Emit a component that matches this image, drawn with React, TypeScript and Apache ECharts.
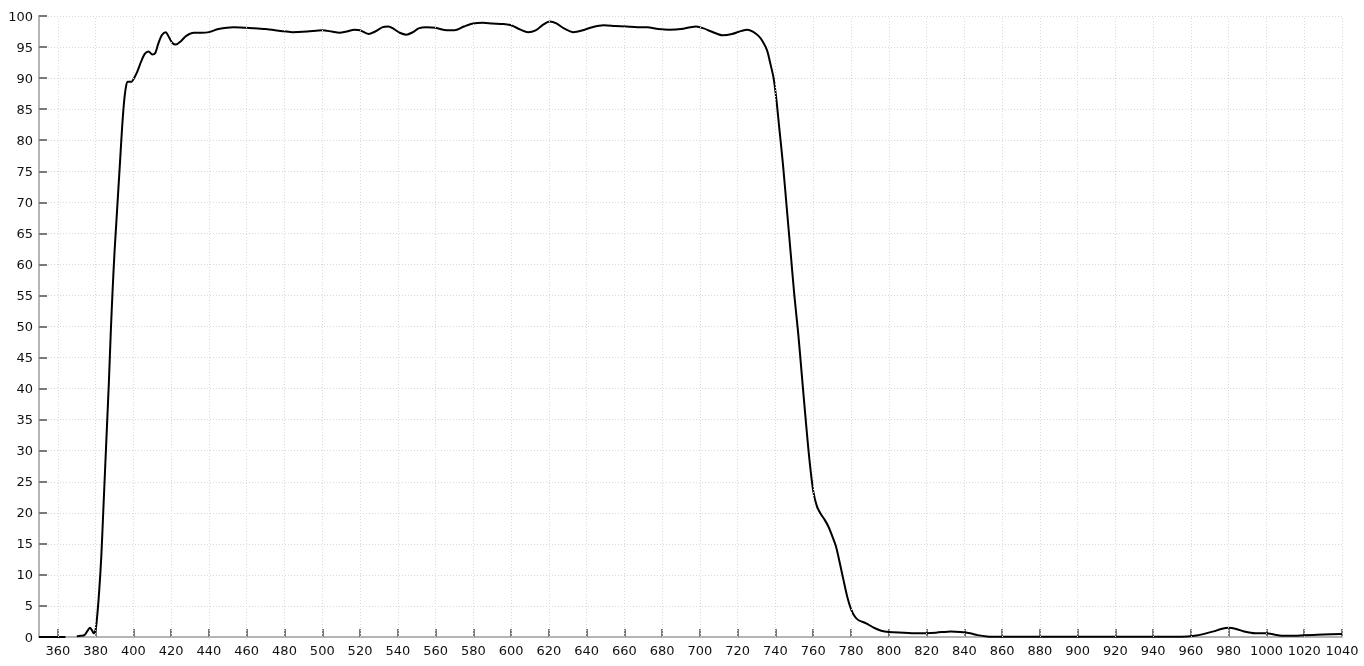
import React, { useEffect, useRef } from "react";
import * as echarts from "echarts";

// wavelength (nm) -> transmission (%)
const lowBand: [number, number | string][] = [
  [350, 0], [355, 0], [360, 0], [364, 0], [367, "-"],
];

const wavelengths: number[] = [
  370, 372, 374, 375.5, 377, 378, 379, 380, 381, 382, 383, 384, 385, 386, 387, 388, 389, 390,
  391, 392, 393, 394, 395, 396, 397, 399, 400, 402, 404, 406, 408, 410, 411.5, 413, 415, 417,
  419, 420.5, 422.5, 425, 428, 432, 436, 440, 445, 453, 460, 470, 478, 484, 492, 500, 505, 509,
  513, 517, 520, 524.5, 528, 532, 535, 538, 541, 544.5, 548, 551, 555, 560, 566, 570, 575, 580,
  585, 590, 596, 600, 605, 609, 613, 617, 620.5, 624, 628, 633, 638, 643, 649, 655, 661, 667,
  672, 678, 684, 690, 695, 698, 702, 706, 712, 717, 722, 725, 728, 731, 733, 735.5, 737, 739,
  740.5, 742, 744, 746, 748, 750, 752, 754, 756, 758, 760, 762, 764, 766, 768, 770, 772, 774,
  776, 778, 780, 782, 784, 788, 792, 796, 800, 808, 816, 825, 833, 838, 843, 847, 852, 860,
  880, 900, 920, 940, 955, 962, 967, 972, 976, 980, 984, 988, 994, 1000, 1004, 1008, 1015,
  1020, 1030, 1040,
];

const transmission: number[] = [
  0.1, 0.2, 0.3, 0.9, 1.5, 1.1, 0.6, 1.2, 4, 8, 13, 20, 27, 34, 41, 49, 56, 62,
  67, 72, 77, 82, 86, 88.5, 89.4, 89.4, 89.8, 91, 92.6, 93.9, 94.3, 93.8, 94.0, 95.4, 96.9, 97.4,
  96.5, 95.7, 95.4, 95.9, 96.8, 97.3, 97.3, 97.4, 97.9, 98.2, 98.1, 97.9, 97.6, 97.4, 97.5, 97.7, 97.5, 97.3,
  97.5, 97.8, 97.7, 97.1, 97.5, 98.2, 98.3, 97.9, 97.3, 97.0, 97.4, 98.0, 98.2, 98.1, 97.7, 97.7, 98.3, 98.8,
  98.9, 98.8, 98.7, 98.5, 97.8, 97.4, 97.7, 98.6, 99.1, 98.8, 98.0, 97.4, 97.7, 98.2, 98.5, 98.4, 98.3, 98.2,
  98.2, 97.9, 97.8, 97.9, 98.2, 98.3, 98.0, 97.5, 96.9, 97.1, 97.6, 97.8, 97.5, 96.8, 96.0, 94.5, 92.7, 90,
  86.5, 82, 76, 69, 62, 55, 49, 42, 35, 28.5, 23.5, 21, 19.8, 18.9, 17.8, 16.3, 14.6, 12.0,
  9.2, 6.5, 4.5, 3.3, 2.7, 2.2, 1.5, 1.0, 0.8, 0.7, 0.6, 0.7, 0.9, 0.8, 0.6, 0.3, 0.1, 0.05,
  0.05, 0.05, 0.05, 0.05, 0.05, 0.2, 0.5, 0.9, 1.3, 1.5, 1.3, 0.9, 0.6, 0.6, 0.4, 0.2, 0.2,
  0.3, 0.4, 0.5,
];

const xTicks: number[] = [
  360, 380, 400, 420, 440, 460, 480, 500, 520, 540, 560, 580, 600, 620, 640, 660, 680, 700,
  720, 740, 760, 780, 800, 820, 840, 860, 880, 900, 920, 940, 960, 980, 1000, 1020, 1040,
];

const App: React.FC = () => {
  const chartRef = useRef<HTMLDivElement>(null);

  useEffect(() => {
    if (!chartRef.current) return;
    const chart = echarts.init(chartRef.current, undefined, { renderer: "svg" });

    const points = [
      ...lowBand,
      ...wavelengths.map((w, i) => [w, transmission[i]]),
    ];

    const gridStyle = { color: "#d9d9d9", width: 1, type: [1, 2] as number[] };
    const labelStyle = { fontFamily: "DejaVu Sans", fontSize: 13, color: "#111" };

    chart.setOption({
      animation: false,
      grid: { left: 39, right: 22, top: 16, bottom: 29, containLabel: false },
      xAxis: {
        type: "value",
        min: 350,
        max: 1040,
        axisLine: { show: true, lineStyle: { color: "#b5b5b5", width: 2 } },
        axisTick: {
          show: true,
          inside: true,
          length: 8,
          customValues: xTicks,
          lineStyle: { color: "#7a7a7a", width: 2 },
        },
        axisLabel: {
          ...labelStyle,
          margin: 7,
          customValues: xTicks,
          formatter: (v: number) => String(v),
        },
        splitLine: { show: false },
      },
      yAxis: {
        type: "value",
        min: 0,
        max: 100,
        interval: 5,
        axisLine: { show: true, lineStyle: { color: "#b5b5b5", width: 2 } },
        axisTick: { show: true, inside: true, length: 8, lineStyle: { color: "#7a7a7a", width: 2 } },
        axisLabel: { ...labelStyle, margin: 6 },
        splitLine: { show: true, lineStyle: gridStyle },
      },
      series: [
        {
          type: "line",
          data: points,
          connectNulls: false,
          smooth: 0.3,
          showSymbol: false,
          symbol: "none",
          lineStyle: { color: "#000", width: 2 },
          markLine: {
            silent: true,
            symbol: ["none", "none"],
            label: { show: false },
            lineStyle: gridStyle,
            data: xTicks.map((v) => ({ xAxis: v })),
          },
        },
      ],
    });

    const handleResize = () => chart.resize();
    window.addEventListener("resize", handleResize);
    return () => {
      window.removeEventListener("resize", handleResize);
      chart.dispose();
    };
  }, []);

  return (
    <div
      ref={chartRef}
      style={{ position: "fixed", left: 0, top: 0, width: "100vw", height: "100vh" }}
    ></div>
  );
};

export default App;
